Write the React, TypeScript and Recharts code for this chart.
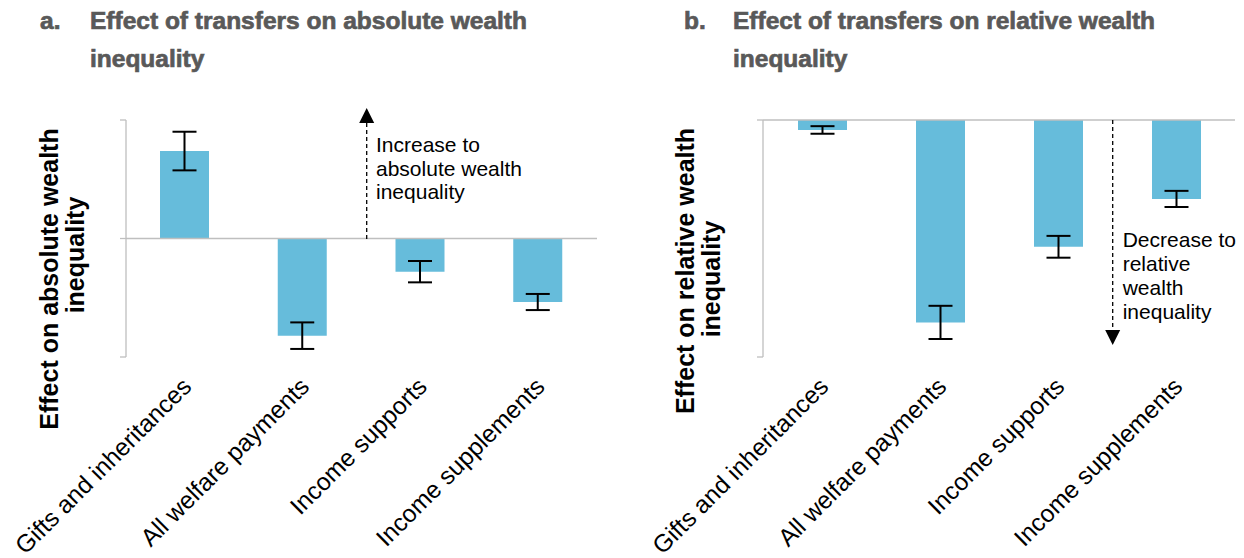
import { BarChart, Bar, XAxis, YAxis, ErrorBar, ReferenceLine } from 'recharts';

const CATEGORIES = ['Gifts and inheritances', 'All welfare payments', 'Income supports', 'Income supplements'];

// panel a: absolute wealth inequality (arbitrary units, no tick labels in source)
const ABS_VALUES = [73.8, -82, -28, -53.6];
const ABS_ERRORS = [16.3, 11.2, 9, 6.8];

// panel b: relative wealth inequality
const REL_VALUES = [-4.2, -85.4, -53.5, -33.3];
const REL_ERRORS = [1.6, 7, 4.6, 3.4];

const ABS_TICKS = [-100, 0, 100];
const REL_TICKS = [-100, 0];

const BAR_COLOR = '#66bcdb';
const AXIS_COLOR = '#bfbfbf';
const FONT = '"Liberation Sans", Arial, sans-serif';

const absData = CATEGORIES.map((name, i) => ({ name, value: ABS_VALUES[i], err: ABS_ERRORS[i] }));
const relData = CATEGORIES.map((name, i) => ({ name, value: REL_VALUES[i], err: REL_ERRORS[i] }));

function CategoryTick(props: any) {
    const { x, y, payload } = props;
    return (
        <g transform={`translate(${x + 8},${y + 23})`}>
            <text transform="rotate(-45)" textAnchor="end" fontFamily={FONT} fontSize={24.5} fill="#000">
                {payload.value}
            </text>
        </g>
    );
}

const NoTick = () => <g />;

function Panel({ data, domain, ticks, margin }: any) {
    return (
        <BarChart width={margin.w} height={558} data={data}
            margin={{ top: margin.top, right: margin.right, bottom: 171, left: margin.left }}>
            <XAxis dataKey="name" axisLine={false} tickLine={false} height={30} interval={0} tick={<CategoryTick />} />
            <YAxis type="number" domain={domain} ticks={ticks} width={10} tick={NoTick}
                axisLine={{ stroke: AXIS_COLOR, strokeWidth: 1.3 }}
                tickLine={{ stroke: AXIS_COLOR, strokeWidth: 1.3 }} tickSize={6} />
            <ReferenceLine y={0} stroke={AXIS_COLOR} strokeWidth={1.5} />
            <Bar dataKey="value" fill={BAR_COLOR} barSize={49} isAnimationActive={false}>
                <ErrorBar dataKey="err" width={12} strokeWidth={2} stroke="#000" />
            </Bar>
        </BarChart>
    );
}

function Arrow({ x, y1, y2, dir }: { x: number; y1: number; y2: number; dir: 'up' | 'down' }) {
    const tip = dir === 'up' ? y2 - 15 : y2 + 15;
    return (
        <g>
            <line x1={x} y1={y1} x2={x} y2={y2} stroke="#000" strokeWidth={1.3} strokeDasharray="4 3" />
            <polygon points={`${x - 7.5},${y2} ${x + 7.5},${y2} ${x},${tip}`} fill="#000" />
        </g>
    );
}

export default function App() {
    return (
        <div style={{ position: 'absolute', left: 0, top: 0, width: 1244, height: 558, background: '#fff' }}>
            <div style={{ position: 'absolute', left: 0, top: 0 }}>
                <Panel data={absData} domain={[-100, 100]} ticks={ABS_TICKS}
                    margin={{ w: 620, top: 120, right: 23, left: 116 }} />
            </div>
            <div style={{ position: 'absolute', left: 640, top: 0 }}>
                <Panel data={relData} domain={[-100, 0]} ticks={REL_TICKS}
                    margin={{ w: 604, top: 120, right: 9, left: 113 }} />
            </div>

            <svg width={1244} height={558} style={{ position: 'absolute', left: 0, top: 0, pointerEvents: 'none' }}>
                {/* panel titles */}
                <g fontFamily={FONT} fontWeight="bold" fontSize={24.5} fill="#595959" stroke="#595959" strokeWidth={0.7}>
                    <text x={40} y={29}>a.</text>
                    <text x={90} y={29}>Effect of transfers on absolute wealth</text>
                    <text x={90} y={67}>inequality</text>
                    <text x={684} y={29}>b.</text>
                    <text x={733} y={29}>Effect of transfers on relative wealth</text>
                    <text x={733} y={67}>inequality</text>
                </g>

                {/* y-axis titles */}
                <g fontFamily={FONT} fontWeight="bold" fontSize={25} fill="#000" textAnchor="middle">
                    <text transform="translate(58,279) rotate(-90)">Effect on absolute wealth</text>
                    <text transform="translate(84,255) rotate(-90)">inequality</text>
                    <text transform="translate(694,271) rotate(-90)">Effect on relative wealth</text>
                    <text transform="translate(720,279) rotate(-90)">inequality</text>
                </g>

                {/* annotations */}
                <Arrow x={366.7} y1={239} y2={123} dir="up" />
                <g fontFamily={FONT} fontSize={21} fill="#000">
                    <text x={376} y={151.7}>Increase to</text>
                    <text x={376} y={175.5}>absolute wealth</text>
                    <text x={376} y={199}>inequality</text>
                </g>
                <Arrow x={1112.7} y1={120} y2={330} dir="down" />
                <g fontFamily={FONT} fontSize={21} fill="#000">
                    <text x={1122.7} y={246.7}>Decrease to</text>
                    <text x={1122.7} y={270.7}>relative</text>
                    <text x={1122.7} y={295}>wealth</text>
                    <text x={1122.7} y={318.5}>inequality</text>
                </g>
            </svg>
        </div>
    );
}
